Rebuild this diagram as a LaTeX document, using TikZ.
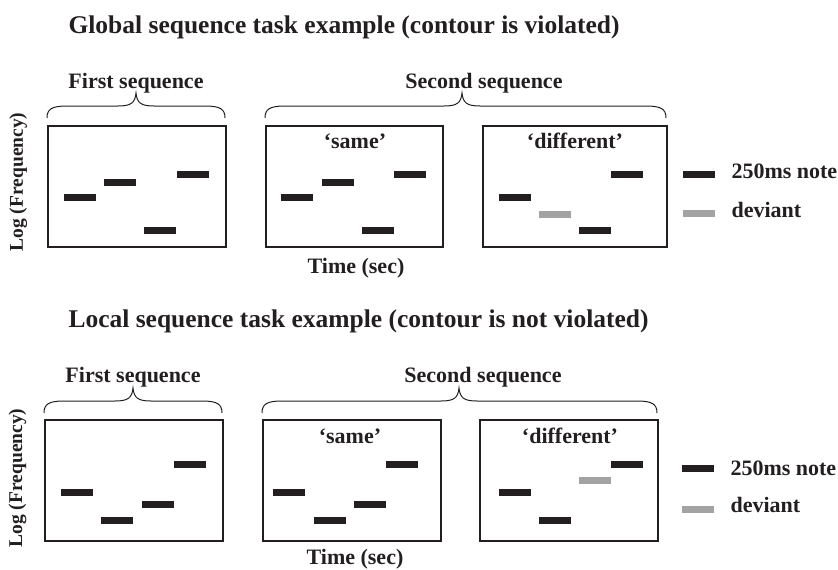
\documentclass[tikz,border=0pt]{standalone}
\usepackage{fontspec}
\setmainfont{Liberation Serif}
\definecolor{ink}{HTML}{231F20}
\definecolor{devgray}{HTML}{A3A3A3}
\newcommand{\seqbrace}[4]{% x0, xm, x1, ytip
  \draw[ink, line width=1pt] (#1,#4+25) .. controls (#1,#4+16) and (#1+5,#4+13) .. (#1+20,#4+13)
    -- (#2-18,#4+13) .. controls (#2-5,#4+13) and (#2-1,#4+10) .. (#2,#4)
    .. controls (#2+1,#4+10) and (#2+5,#4+13) .. (#2+18,#4+13)
    -- (#3-20,#4+13) .. controls (#3-5,#4+13) and (#3,#4+16) .. (#3,#4+25);}
\begin{document}
\begin{tikzpicture}[x=1pt,y=-1pt,
  every node/.style={text=ink, font=\bfseries\fontsize{22}{26}\selectfont},
  title/.style={anchor=base west, font=\bfseries\fontsize{25.5}{30}\selectfont},
  lbl/.style={anchor=base},
  axis/.style={anchor=base, rotate=90, font=\bfseries\fontsize{19.5}{23}\selectfont},
  frame/.style={draw=ink, line width=1.8pt, anchor=north west, inner sep=0, minimum height=121},
  note/.style={fill=ink, minimum width=32, minimum height=7, inner sep=0},
  dnote/.style={fill=devgray, minimum width=32, minimum height=7, inner sep=0},
  legend/.style={anchor=base west}]
\useasboundingbox (0,0) rectangle (838,570);

% ---------- Global ----------
\node[title] (t1) at (65,33) {Global sequence task example (contour is violated)};
\node[lbl] (fs1) at (136,88) {First sequence};
\node[lbl] (ss1) at (484,88) {Second sequence};
\seqbrace{47}{136}{225}{93}
\seqbrace{265}{462}{666}{93}
\node[axis] (lf1) at (23,182) {Log (Frequency)};

\node[frame, minimum width=178] (b11) at (47,125) {};
\node[frame, minimum width=177] (b12) at (265,125) {};
\node[frame, minimum width=184] (b13) at (482,125) {};
\node[lbl] (same1) at (355,148) {‘same’};
\node[lbl] (diff1) at (575,148) {‘different’};
\node[lbl] (time1) at (356,273) {Time (sec)};

\node[note] (a1) at (80,197) {};
\node[note] (a2) at (120,182) {};
\node[note] (a3) at (160,230) {};
\node[note] (a4) at (193,174) {};

\node[note] (b1) at (297,197) {};
\node[note] (b2) at (338,182) {};
\node[note] (b3) at (378,230) {};
\node[note] (b4) at (410,174) {};

\node[note] (c1) at (515,197) {};
\node[dnote] (c2) at (555,214) {};
\node[note] (c3) at (595,230) {};
\node[note] (c4) at (627,174) {};

\node[note] (lg1) at (699,174) {};
\node[legend] (lt1) at (728,178) {250ms note};
\node[dnote] (lg2) at (699,213) {};
\node[legend] (lt2) at (728,217) {deviant};

% ---------- Local ----------
\node[title] (t2) at (65,327) {Local sequence task example (contour is not violated)};
\node[lbl] (fs2) at (133,382) {First sequence};
\node[lbl] (ss2) at (483,382) {Second sequence};
\seqbrace{44}{133}{222}{388}
\seqbrace{262}{459}{657}{388}
\node[axis] (lf2) at (22,478) {Log (Frequency)};

\node[frame, minimum width=178] (b21) at (44,419) {};
\node[frame, minimum width=178] (b22) at (262,419) {};
\node[frame, minimum width=178] (b23) at (479,419) {};
\node[lbl] (same2) at (350,443) {‘same’};
\node[lbl] (diff2) at (570,443) {‘different’};
\node[lbl] (time2) at (355,564) {Time (sec)};

\node[note] (d1) at (77,492) {};
\node[note] (d2) at (117,520) {};
\node[note] (d3) at (158,504) {};
\node[note] (d4) at (190,464) {};

\node[note] (e1) at (289,492) {};
\node[note] (e2) at (330,520) {};
\node[note] (e3) at (370,504) {};
\node[note] (e4) at (402,464) {};

\node[note] (f1) at (515,492) {};
\node[note] (f2) at (555,520) {};
\node[dnote] (f3) at (595,480) {};
\node[note] (f4) at (627,464) {};

\node[note] (lg3) at (698,468) {};
\node[legend] (lt3) at (727,475) {250ms note};
\node[dnote] (lg4) at (698,509) {};
\node[legend] (lt4) at (727,512) {deviant};
\end{tikzpicture}
\end{document}
